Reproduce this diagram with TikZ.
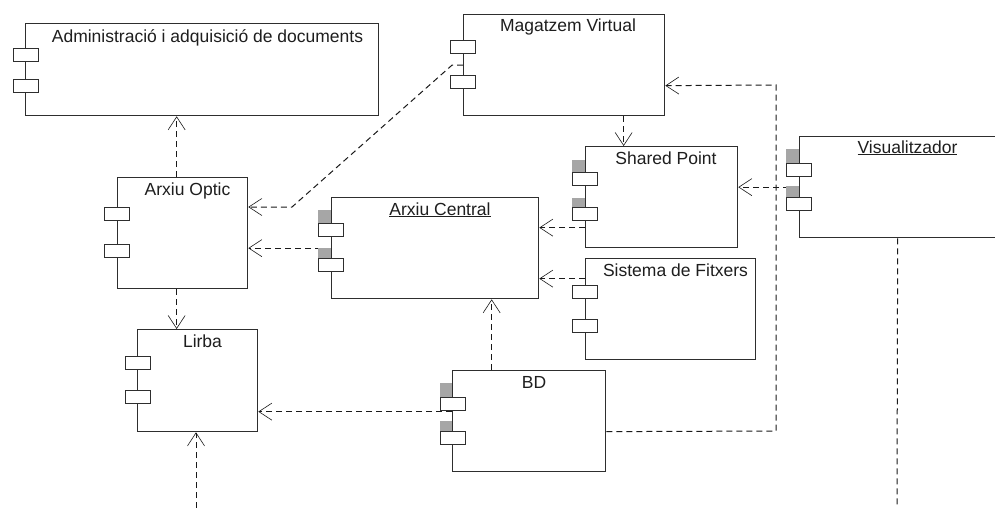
\documentclass[tikz,border=0pt]{standalone}
\usepackage{fontspec}
\setmainfont{Liberation Sans}
\usetikzlibrary{arrows.meta}
\definecolor{boxc}{HTML}{2E2E2E}
\definecolor{linec}{HTML}{1A1A1A}
\definecolor{shadec}{HTML}{A6A6A6}
\definecolor{textc}{HTML}{1E1E1E}
\begin{document}
\begin{tikzpicture}[x=1pt,y=-1pt,
  comp/.style={draw=boxc, line width=1.3pt, fill=white, anchor=north west, inner sep=0pt},
  port/.style={draw=boxc, line width=1pt, fill=white, minimum width=25pt, minimum height=13pt, anchor=north west, inner sep=0pt},
  pshade/.style={fill=shadec, draw=none},
  dep/.style={draw=linec, line width=1pt, dash pattern=on 6pt off 4pt, -{Straight Barb[length=13pt,width=17pt,line width=0.6pt]}},
  plain/.style={draw=linec, line width=1pt, dash pattern=on 6pt off 4pt},
  lbl/.style={font=\fontsize{17.5}{20}\selectfont, text=textc, anchor=base, inner sep=0pt}]
\useasboundingbox (0,0) rectangle (995,508);
\clip (0,0) rectangle (995,508);
\fill[white] (0,0) rectangle (995,508);

% component boxes
\node[comp, minimum width=353pt, minimum height=92pt] (admin) at (25,23) {};
\node[comp, minimum width=201pt, minimum height=101pt] (mag) at (463,14) {};
\node[comp, minimum width=152pt, minimum height=101pt] (shared) at (585,146) {};
\node[comp, minimum width=207pt, minimum height=101pt] (central) at (331,197) {};
\node[comp, minimum width=170pt, minimum height=101pt] (sistema) at (585,258) {};
\node[comp, minimum width=130pt, minimum height=111pt] (aoptic) at (117,177) {};
\node[comp, minimum width=120pt, minimum height=102pt] (lirba) at (137,329) {};
\node[comp, minimum width=153pt, minimum height=101pt] (bd) at (452,370) {};
\node[comp, minimum width=220pt, minimum height=101pt] (vis) at (799,136) {};

% free ends and bends
\coordinate (bend) at (292,207);
\coordinate (c1) at (776,431);
\coordinate (c2) at (776,85);
\coordinate (lbot) at (196,508);
\coordinate (vbot) at (897,508);

% connectors
\draw[dep] ([xshift=-6pt]aoptic.north) -- ([xshift=-6pt]aoptic.north |- admin.south);
\draw[dep] ([xshift=59.5pt]mag.south) -- ([xshift=59.5pt]mag.south |- shared.north);
\draw[dep] (vis.west) -- (vis.west -| shared.east);
\draw[dep] ([yshift=-30.5pt]shared.west) -- ([yshift=-30.5pt]shared.west -| central.east);
\draw[dep] ([yshift=30.5pt]sistema.west) -- ([yshift=30.5pt]sistema.west -| central.east);
\draw[dep] ([xshift=-37.5pt]bd.north) -- ([xshift=-37.5pt]bd.north |- central.south);
\draw[dep] (central.west) -- (central.west -| aoptic.east);
\draw[dep] (mag.west) -- ++(-11,0) -- (bend) -- (bend -| aoptic.east);
\draw[dep] ([xshift=-6pt]aoptic.south) -- ([xshift=-6pt]aoptic.south |- lirba.north);
\draw[dep] ([yshift=9.5pt]bd.west) -- ([yshift=9.5pt]bd.west -| lirba.east);
\draw[dep] ([yshift=-10.5pt]bd.east) -- (c1) -- (c2) -- ([yshift=-20.5pt]mag.east);
\draw[dep] (lbot) -- (lbot |- lirba.south);
\draw[plain] ([xshift=-12pt]vis.south) -- (vbot);

% port shading
\fill[pshade] (572,160) rectangle (585,172);
\fill[pshade] (572,198) rectangle (585,207);
\fill[pshade] (318,210) rectangle (331,223);
\fill[pshade] (318,248) rectangle (331,258);
\fill[pshade] (440,383) rectangle (452,397);
\fill[pshade] (440,421) rectangle (452,431);
\fill[pshade] (786,149) rectangle (799,163);
\fill[pshade] (786,186) rectangle (799,197);

% ports
\node[port] (admin-p1) at (13,48) {};
\node[port] (admin-p2) at (13,79) {};
\node[port] (mag-p1) at (450,40) {};
\node[port] (mag-p2) at (450,75) {};
\node[port] (shared-p1) at (572,172) {};
\node[port] (shared-p2) at (572,207) {};
\node[port] (central-p1) at (318,223) {};
\node[port] (central-p2) at (318,258) {};
\node[port] (sistema-p1) at (572,285) {};
\node[port] (sistema-p2) at (572,319) {};
\node[port] (aoptic-p1) at (104,207) {};
\node[port] (aoptic-p2) at (104,244) {};
\node[port] (lirba-p1) at (125,356) {};
\node[port] (lirba-p2) at (125,390) {};
\node[port] (bd-p1) at (440,397) {};
\node[port] (bd-p2) at (440,431) {};
\node[port] (vis-p1) at (786,163) {};
\node[port] (vis-p2) at (786,197) {};

% labels
\node[lbl] (admin-t) at (207.5,43) {Administració i adquisició de documents};
\node[lbl] (mag-t) at (568,32) {Magatzem Virtual};
\node[lbl] (shared-t) at (666,164) {Shared Point};
\node[lbl] (central-t) at (440,215) {\underline{Arxiu Central}};
\node[lbl] (sistema-t) at (675.5,276) {Sistema de Fitxers};
\node[lbl] (aoptic-t) at (187.5,195) {Arxiu Optic};
\node[lbl] (lirba-t) at (202.5,347) {Lirba};
\node[lbl] (bd-t) at (534,388) {BD};
\node[lbl] (vis-t) at (907.5,153) {\underline{Visualitzador}};
\end{tikzpicture}
\end{document}
